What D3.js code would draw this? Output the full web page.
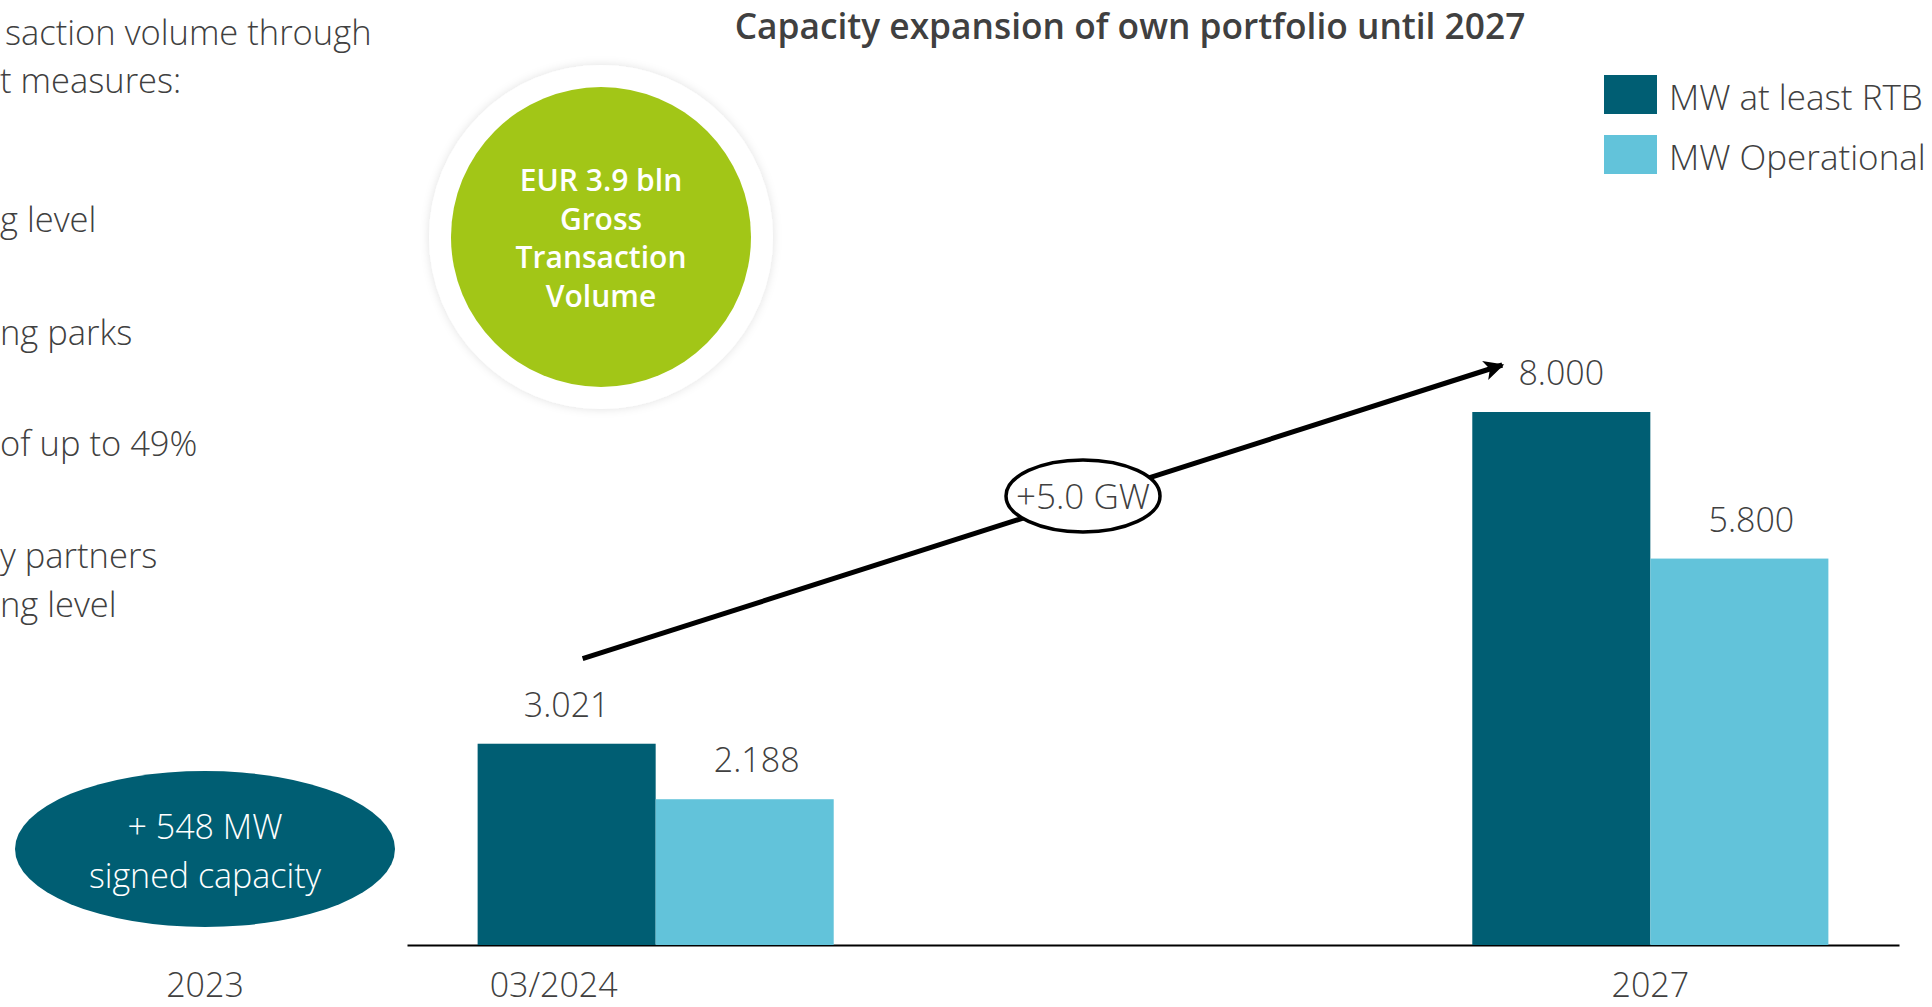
<!DOCTYPE html>
<html>
<head>
<meta charset="utf-8">
<script src="https://cdn.jsdelivr.net/npm/d3@7"></script>
<style>
  html, body { margin: 0; padding: 0; background: #fff; overflow: hidden; }
  svg { display: block; font-family: "Open Sans", "Noto Sans", sans-serif; }
</style>
</head>
<body>
<div id="container"></div>
<script>
// chart data
var categories = ["03/2024", "2027"];
var seriesNames = ["MW at least RTB", "MW Operational"];
var rtbValues = [3021, 8000];
var operationalValues = [2188, 5800];
var seriesColors = ["#005e73", "#62c3da"];

var priorYear = "2023";
var signedLines = ["+ 548 MW", "signed capacity"];
var growthLabel = "+5.0 GW";
var volumeLines = ["EUR 3.9 bln", "Gross", "Transaction", "Volume"];
var titleText = "Capacity expansion of own portfolio until 2027";

// text from the left part of the slide (cut by the picture edge)
var sideLines = [
  {text: "saction volume through", left: 5, base: 45},
  {text: "t measures:", left: 0, base: 93},
  {text: "g level", left: 0, base: 232},
  {text: "ng parks", left: 0, base: 345},
  {text: "of up to 49%", left: 0, base: 456},
  {text: "y partners", left: 0, base: 568},
  {text: "ng level", left: 0, base: 617}
];

var width = 1932, height = 1007;
var textGray = "#404040";
var lightFont = 300;

var fmt = d3.formatLocale({decimal: ",", thousands: ".", grouping: [3], currency: ["", ""]}).format(",d");

var svg = d3.select("#container")
  .append("svg")
  .attr("width", width)
  .attr("height", height);

var defs = svg.append("defs");

defs.append("filter")
  .attr("id", "halo")
  .attr("x", "-20%").attr("y", "-20%")
  .attr("width", "140%").attr("height", "140%")
  .append("feDropShadow")
  .attr("dx", 0).attr("dy", 0)
  .attr("stdDeviation", 5)
  .attr("flood-color", "#000")
  .attr("flood-opacity", 0.12);

defs.append("marker")
  .attr("id", "arrowhead")
  .attr("markerUnits", "userSpaceOnUse")
  .attr("viewBox", "0 0 10 10")
  .attr("refX", 9).attr("refY", 5)
  .attr("markerWidth", 24).attr("markerHeight", 20)
  .attr("orient", "auto")
  .append("path")
  .attr("d", "M0,0 L10,5 L0,10 L2.5,5 Z")
  .attr("fill", "#000");

// scales
var baseline = 945;

var x0 = d3.scaleBand()
  .domain(categories)
  .range([407, 1899])
  .paddingInner(0.642)
  .paddingOuter(0.071);

var x1 = d3.scaleBand()
  .domain(seriesNames)
  .range([0, x0.bandwidth()]);

var y = d3.scaleLinear()
  .domain([0, 8000])
  .range([baseline, 412]);

var table = categories.map(function (c, i) {
  return {category: c, values: [
    {series: seriesNames[0], value: rtbValues[i]},
    {series: seriesNames[1], value: operationalValues[i]}
  ]};
});

// side text
svg.append("g")
  .selectAll("text")
  .data(sideLines)
  .enter()
  .append("text")
  .attr("x", function (d) { return d.left; })
  .attr("y", function (d) { return d.base; })
  .attr("font-size", 34.5)
  .attr("font-weight", lightFont)
  .attr("fill", textGray)
  .text(function (d) { return d.text; });

// title
svg.append("text")
  .attr("x", 1130)
  .attr("y", 39)
  .attr("text-anchor", "middle")
  .attr("font-size", 35.3)
  .attr("font-weight", 600)
  .attr("fill", textGray)
  .text(titleText);

// transaction volume circle
var bubble = svg.append("g").attr("transform", "translate(601,237)");
bubble.append("circle")
  .attr("r", 172)
  .attr("fill", "#fff")
  .attr("filter", "url(#halo)");
bubble.append("circle")
  .attr("r", 150)
  .attr("fill", "#a2c617");
bubble.selectAll("text")
  .data(volumeLines)
  .enter()
  .append("text")
  .attr("text-anchor", "middle")
  .attr("y", function (d, i) { return -46 + i * 38.5; })
  .attr("font-size", 30)
  .attr("font-weight", 600)
  .attr("fill", "#fff")
  .text(function (d) { return d; });

// axis line
svg.append("g")
  .attr("transform", "translate(0," + baseline + ")")
  .call(d3.axisBottom(x0).tickSize(0).tickSizeOuter(0).tickFormat(""))
  .call(function (g) {
    g.select(".domain").attr("stroke", "#000").attr("stroke-width", 2);
  });

// bars
var groups = svg.append("g")
  .selectAll("g.group")
  .data(table)
  .enter()
  .append("g")
  .attr("class", "group")
  .attr("transform", function (d) { return "translate(" + x0(d.category) + ",0)"; });

groups.selectAll("rect")
  .data(function (d) { return d.values; })
  .enter()
  .append("rect")
  .attr("x", function (d) { return x1(d.series); })
  .attr("y", function (d) { return y(d.value); })
  .attr("width", x1.bandwidth())
  .attr("height", function (d) { return baseline - y(d.value); })
  .attr("fill", function (d, i) { return seriesColors[i]; });

// operational labels sit a little right of the bar centre in the original
groups.selectAll("text.value")
  .data(function (d) { return d.values; })
  .enter()
  .append("text")
  .attr("class", "value")
  .attr("x", function (d, i) { return x1(d.series) + x1.bandwidth() / 2 + i * 12; })
  .attr("y", function (d) { return y(d.value) - 27; })
  .attr("text-anchor", "middle")
  .attr("font-size", 34)
  .attr("font-weight", lightFont)
  .attr("fill", textGray)
  .text(function (d) { return fmt(d.value); });

// category labels
var labelShift = {"03/2024": -102, "2027": 0};
svg.append("g")
  .selectAll("text")
  .data(categories)
  .enter()
  .append("text")
  .attr("x", function (d) { return x0(d) + x0.bandwidth() / 2 + labelShift[d]; })
  .attr("y", 997)
  .attr("text-anchor", "middle")
  .attr("font-size", 34)
  .attr("font-weight", lightFont)
  .attr("fill", textGray)
  .text(function (d) { return d; });

// 2023 signed capacity
var signed = svg.append("g").attr("transform", "translate(205,849)");
signed.append("ellipse")
  .attr("rx", 190)
  .attr("ry", 78)
  .attr("fill", seriesColors[0]);
signed.selectAll("text")
  .data(signedLines)
  .enter()
  .append("text")
  .attr("text-anchor", "middle")
  .attr("y", function (d, i) { return -10 + i * 49; })
  .attr("font-size", 34)
  .attr("font-weight", lightFont)
  .attr("fill", "#fff")
  .text(function (d) { return d; });

svg.append("text")
  .attr("x", 205)
  .attr("y", 997)
  .attr("text-anchor", "middle")
  .attr("font-size", 34)
  .attr("font-weight", lightFont)
  .attr("fill", textGray)
  .text(priorYear);

// growth arrow
var start = [x0(categories[0]) + 105, y(rtbValues[0]) - 85];
var end = [x0(categories[1]) + 30, y(rtbValues[1]) - 47];

svg.append("line")
  .attr("x1", start[0]).attr("y1", start[1])
  .attr("x2", end[0]).attr("y2", end[1])
  .attr("stroke", "#000")
  .attr("stroke-width", 5)
  .attr("marker-end", "url(#arrowhead)");

var mid = [1083, start[1] + (end[1] - start[1]) * (1083 - start[0]) / (end[0] - start[0]) - 3];
var badge = svg.append("g").attr("transform", "translate(" + mid[0] + "," + mid[1] + ")");
badge.append("ellipse")
  .attr("rx", 77)
  .attr("ry", 36)
  .attr("fill", "#fff")
  .attr("stroke", "#000")
  .attr("stroke-width", 3.5);
badge.append("text")
  .attr("y", 13)
  .attr("text-anchor", "middle")
  .attr("font-size", 35)
  .attr("font-weight", lightFont)
  .attr("fill", textGray)
  .text(growthLabel);

// legend
var legend = svg.append("g")
  .selectAll("g")
  .data(seriesNames)
  .enter()
  .append("g")
  .attr("transform", function (d, i) { return "translate(1604," + (75 + i * 60) + ")"; });

legend.append("rect")
  .attr("width", 53)
  .attr("height", 39)
  .attr("fill", function (d, i) { return seriesColors[i]; });

legend.append("text")
  .attr("x", 65)
  .attr("y", 35)
  .attr("font-size", 35)
  .attr("font-weight", lightFont)
  .attr("fill", textGray)
  .text(function (d) { return d; });
</script>
</body>
</html>
